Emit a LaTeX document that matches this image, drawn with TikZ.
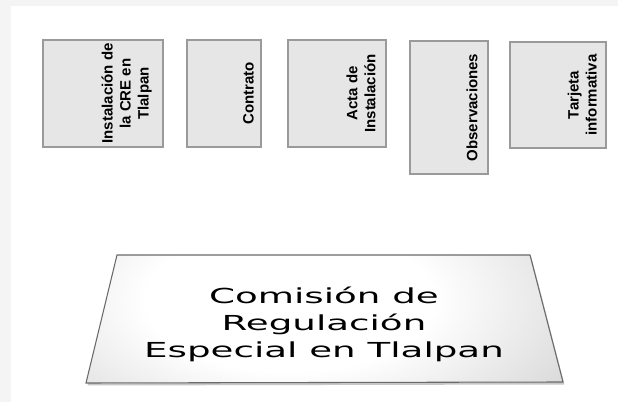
\documentclass[tikz,border=0pt]{standalone}
\usepackage{fontspec}
\setmainfont{DejaVu Sans}
\newfontfamily\boxfont{Liberation Sans}
\definecolor{pagebg}{HTML}{F4F4F4}
\definecolor{cardfill}{HTML}{E6E6E6}
\definecolor{cardline}{HTML}{9A9A9A}
\definecolor{trapline}{HTML}{6A6A6A}
\pgfdeclareradialshading{trapshade}{\pgfpoint{0bp}{0bp}}{color(0bp)=(white); color(12bp)=(white); color(30bp)=(black!18); color(50bp)=(black!46)}
\begin{document}
\begin{tikzpicture}[x=0.75pt,y=-0.75pt,
  card/.style={draw=cardline, fill=cardfill, line width=1.5pt, inner sep=0pt},
  cardtext/.style={rotate=90, anchor=south, align=center, inner sep=0pt,
    font=\boxfont\bfseries\fontsize{11.25pt}{13.5pt}\selectfont},
  bigtext/.style={align=center, inner sep=0pt, xscale=1.8,
    font=\fontsize{15.5pt}{20.25pt}\selectfont}
]
\fill[pagebg] (0,0) rectangle (618,402);
\fill[white] (11,6) rectangle (618,402);
\useasboundingbox (0,0) rectangle (618,402);

% cards
\node[card, minimum width=90pt, minimum height=80.25pt] (b1) at (103,93.5) {};
\node[card, minimum width=55.5pt, minimum height=80.25pt] (b2) at (224,93.5) {};
\node[card, minimum width=73.5pt, minimum height=80.25pt] (b3) at (337,93.5) {};
\node[card, minimum width=58.5pt, minimum height=99.75pt] (b4) at (449,107.5) {};
\node[card, minimum width=72pt, minimum height=79.5pt] (b5) at (558,95) {};

\node[cardtext] (t1) at ([xshift=-9pt]b1.east) {Instalación de\\la CRE en\\Tlalpan};
\node[cardtext] (t2) at ([xshift=-6pt]b2.east) {Contrato};
\node[cardtext] (t3) at ([xshift=-8.5pt]b3.east) {Acta de\\Instalación};
\node[cardtext] (t4) at ([xshift=-8.5pt]b4.east) {Observaciones};
\node[cardtext] (t5) at ([xshift=-7.5pt]b5.east) {Tarjeta\\informativa};

% trapezoid
\coordinate (tl) at (117,255);
\coordinate (tr) at (530,255);
\coordinate (br) at (563,382);
\coordinate (bl) at (86,383);
\fill[black!22] ([shift={(1.5,2.5)}]tl) -- ([shift={(1.5,2.5)}]tr) -- ([shift={(1.5,2.5)}]br) -- ([shift={(1.5,2.5)}]bl) -- cycle;
\begin{scope}
  \clip (tl) -- (tr) -- (br) -- (bl) -- cycle;
  \shade[shading=trapshade] (-10,150) rectangle (590,450);
\end{scope}
\draw[trapline, line width=0.8pt] (tl) -- (tr) -- (br) -- (bl) -- cycle;
\node[bigtext] (crt) at (324,324.5) {Comisión de\\Regulación\\Especial en Tlalpan};
\end{tikzpicture}
\end{document}
